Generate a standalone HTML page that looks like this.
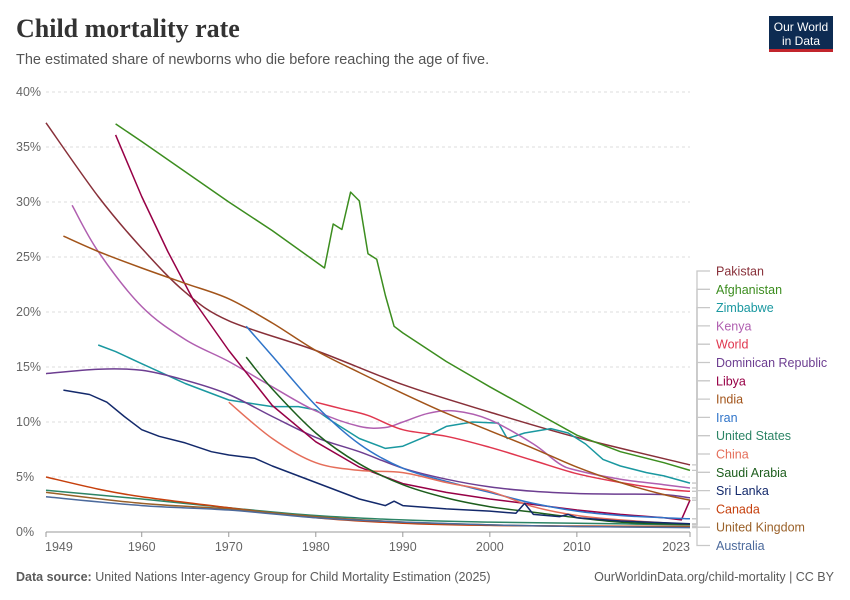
<!DOCTYPE html>
<html><head><meta charset="utf-8"><style>
body{margin:0;background:#fff;}
#wrap{position:relative;width:850px;height:600px;font-family:"Liberation Sans",sans-serif;overflow:hidden;}
.title{position:absolute;left:16px;top:14px;font-family:"Liberation Serif",serif;font-size:26px;font-weight:bold;color:#333;}
.sub{position:absolute;left:16px;top:52px;font-size:14.5px;color:#555;}
.logo{position:absolute;left:769px;top:16px;width:64px;height:36px;background:#0d2b52;border-bottom:3px solid #c2252c;color:#fff;font-size:12px;text-align:center;line-height:14px;padding-top:4px;box-sizing:border-box;}
.foot{position:absolute;top:570px;font-size:12.5px;color:#5b5b5b;}
</style></head><body>
<div id="wrap">
<div class="title">Child mortality rate</div>
<div class="sub">The estimated share of newborns who die before reaching the age of five.</div>
<div class="logo">Our World<br>in Data</div>
<svg id="svg" width="850" height="600" style="position:absolute;left:0;top:0"></svg>
<div class="foot" style="left:16px"><b>Data source:</b> United Nations Inter-agency Group for Child Mortality Estimation (2025)</div>
<div class="foot" style="right:16px">OurWorldinData.org/child-mortality | CC BY</div>
</div>
<script>
const yTicks=[0,5,10,15,20,25,30,35,40];
const xTicks=[1949,1960,1970,1980,1990,2000,2010,2023];
const names=["Pakistan","Afghanistan","Zimbabwe","Kenya","World","Dominican Republic","Libya","India","Iran","United States","China","Saudi Arabia","Sri Lanka","Canada","United Kingdom","Australia"];
const colors=["#883039","#3c8d1f","#1a98a0","#b05fb0","#e0374f","#6d3e91","#970046","#a2541a","#2f74c9","#2c8465","#e56e5a","#1d5e1d","#13296b","#c6400d","#9a6129","#4c6a9c"];
const smooth=[true,false,false,true,true,true,false,true,true,true,true,true,false,true,true,true];
const pakistan=[[1949,37.2],[1955,30.5],[1960,25.8],[1965,21.8],[1970,19.2],[1980,16.5],[1990,13.4],[2000,10.9],[2010,8.6],[2023,6.1]];
const afghanistan=[[1957,37.1],[1960,35.5],[1970,30],[1975,27.4],[1981,24],[1982,28],[1983,27.5],[1984,30.9],[1985,30.1],[1986,25.3],[1987,24.8],[1988,21.5],[1989,18.7],[1990,18.1],[1995,15.5],[2000,13.2],[2005,11],[2010,8.8],[2015,7.3],[2020,6.3],[2023,5.6]];
const zimbabwe=[[1955,17],[1957,16.4],[1960,15.3],[1965,13.5],[1970,12],[1975,11.4],[1978,11.4],[1980,11.1],[1982,10],[1985,8.5],[1988,7.6],[1990,7.8],[1993,8.8],[1995,9.6],[1998,10],[2001,9.9],[2002,8.5],[2004,9],[2007,9.4],[2009,9],[2011,8],[2013,6.6],[2015,6],[2018,5.4],[2020,5.1],[2023,4.45]];
const kenya=[[1952,29.7],[1955,25.5],[1960,20.5],[1965,17.5],[1970,15.5],[1975,13.2],[1980,11],[1985,9.6],[1988,9.5],[1990,10],[1993,10.8],[1996,11],[2000,10.2],[2005,8],[2008,6.2],[2010,5.6],[2015,4.8],[2020,4.3],[2023,4]];
const world=[[1980,11.8],[1983,11.2],[1986,10.6],[1990,9.3],[1995,8.7],[2000,7.7],[2005,6.5],[2010,5.3],[2015,4.5],[2020,3.9],[2023,3.7]];
const dominican=[[1949,14.4],[1955,14.8],[1960,14.7],[1965,13.8],[1970,12.5],[1975,10.5],[1980,8.6],[1985,7.3],[1990,5.8],[1995,4.8],[2000,4.1],[2005,3.7],[2010,3.5],[2015,3.45],[2020,3.4],[2023,3.1]];
const libya=[[1957,36.1],[1960,30.5],[1963,25.5],[1966,21],[1970,16.5],[1975,11.5],[1980,8.2],[1985,5.9],[1990,4.4],[1995,3.6],[2000,3],[2005,2.5],[2010,2],[2015,1.6],[2020,1.3],[2022,1.1],[2023,2.9]];
const india=[[1951,26.9],[1955,25.5],[1960,24],[1965,22.6],[1970,21.2],[1975,19],[1980,16.5],[1985,14.5],[1990,12.6],[1995,10.8],[2000,9.2],[2005,7.6],[2010,5.9],[2015,4.5],[2020,3.4],[2023,2.9]];
const iran=[[1972,18.7],[1975,16],[1980,11.5],[1985,8],[1990,5.8],[1995,4.6],[2000,3.6],[2005,2.6],[2010,1.9],[2015,1.5],[2020,1.3],[2023,1.2]];
const usa=[[1949,3.8],[1960,3],[1970,2.2],[1980,1.5],[1990,1.1],[2000,0.9],[2010,0.8],[2023,0.65]];
const china=[[1970,11.8],[1975,8.5],[1980,6.3],[1985,5.6],[1990,5.4],[1995,4.5],[2000,3.7],[2005,2.3],[2010,1.5],[2015,1.1],[2023,0.7]];
const saudi=[[1972,15.9],[1975,13],[1980,9],[1985,6.2],[1990,4.3],[1995,3.1],[2000,2.3],[2005,1.8],[2010,1.3],[2015,0.9],[2020,0.75],[2023,0.7]];
const srilanka=[[1951,12.9],[1954,12.5],[1956,11.8],[1958,10.5],[1960,9.3],[1962,8.7],[1965,8.1],[1968,7.3],[1970,7],[1973,6.7],[1975,6],[1980,4.5],[1985,3],[1987,2.6],[1988,2.4],[1989,2.8],[1990,2.4],[1995,2.1],[2000,1.9],[2003,1.7],[2004,2.6],[2005,1.6],[2008,1.4],[2009,1.6],[2010,1.3],[2015,1],[2023,0.75]];
const canada=[[1949,5],[1955,3.9],[1960,3.2],[1970,2.2],[1980,1.3],[1990,0.8],[2000,0.6],[2010,0.55],[2023,0.5]];
const uk=[[1949,3.6],[1960,2.6],[1970,2.1],[1980,1.4],[1990,0.9],[2000,0.65],[2010,0.5],[2023,0.45]];
const australia=[[1949,3.2],[1960,2.4],[1970,2],[1980,1.3],[1990,0.9],[2000,0.65],[2010,0.5],[2023,0.4]];
const series=[pakistan,afghanistan,zimbabwe,kenya,world,dominican,libya,india,iran,usa,china,saudi,srilanka,canada,uk,australia];

const X0=46,X1=690,Y0=532,Y1=92;
const xs=y=>X0+(y-1949)*(X1-X0)/(2023-1949);
const ys=v=>Y0-v*(Y0-Y1)/40;
const svg=document.getElementById('svg');
const NS='http://www.w3.org/2000/svg';
function mk(t,a){const e=document.createElementNS(NS,t);for(const k in a)e.setAttribute(k,a[k]);svg.appendChild(e);return e;}
function pathD(pts,sm){
  if(!sm)return pts.map((p,j)=>(j?'L':'M')+p[0].toFixed(1)+','+p[1].toFixed(1)).join('');
  let d='M'+pts[0][0].toFixed(1)+','+pts[0][1].toFixed(1);
  for(let i=0;i<pts.length-1;i++){
    const p0=pts[i-1]||pts[i],p1=pts[i],p2=pts[i+1],p3=pts[i+2]||p2;
    const c1=[p1[0]+(p2[0]-p0[0])/6,p1[1]+(p2[1]-p0[1])/6];
    const c2=[p2[0]-(p3[0]-p1[0])/6,p2[1]-(p3[1]-p1[1])/6];
    d+='C'+c1[0].toFixed(1)+','+c1[1].toFixed(1)+' '+c2[0].toFixed(1)+','+c2[1].toFixed(1)+' '+p2[0].toFixed(1)+','+p2[1].toFixed(1);
  }
  return d;
}
yTicks.forEach(t=>{
  const l=mk('line',{x1:X0,x2:X1,y1:ys(t),y2:ys(t),stroke:t===0?'#999':'#ddd','stroke-dasharray':t===0?'':'3,3'});
  
  
  const tx=mk('text',{x:16,y:ys(t)+4,'font-size':12.5,fill:'#666','font-family':'Liberation Sans'});
  tx.textContent=t+'%';
  
  
});
xTicks.forEach((t,i)=>{
  const l=mk('line',{x1:xs(t),x2:xs(t),y1:Y0,y2:Y0+5,stroke:'#999'});
  
  
  const anchor=i===0?'start':(i===xTicks.length-1?'end':'middle');
  const tx=mk('text',{x:i===0?xs(t)-1:xs(t),y:Y0+19,'font-size':12.5,fill:'#666','text-anchor':anchor,'font-family':'Liberation Sans'});
  tx.textContent=t;
  
  
});
series.forEach((s,i)=>{
  const pts=s.map(p=>[xs(p[0]),ys(p[1])]);
  const p=mk('path',{d:pathD(pts,smooth[i]),fill:'none',stroke:colors[i],'stroke-width':1.5,'stroke-linejoin':'round'});
  
  
});
names.forEach((n,i)=>{
  const s=series[i];const ey=ys(s[s.length-1][1]);const ly=271+i*18.3;
  const c=mk('path',{d:`M${X1+2},${ey}H697V${ly}H710`,fill:'none',stroke:'#c8c8c8','stroke-width':1.3});
  
  
  const tx=mk('text',{x:716,y:ly+4.5,'font-size':12.5,fill:colors[i],'font-family':'Liberation Sans'});
  tx.textContent=n;
  
  
});
</script>
</body></html>
